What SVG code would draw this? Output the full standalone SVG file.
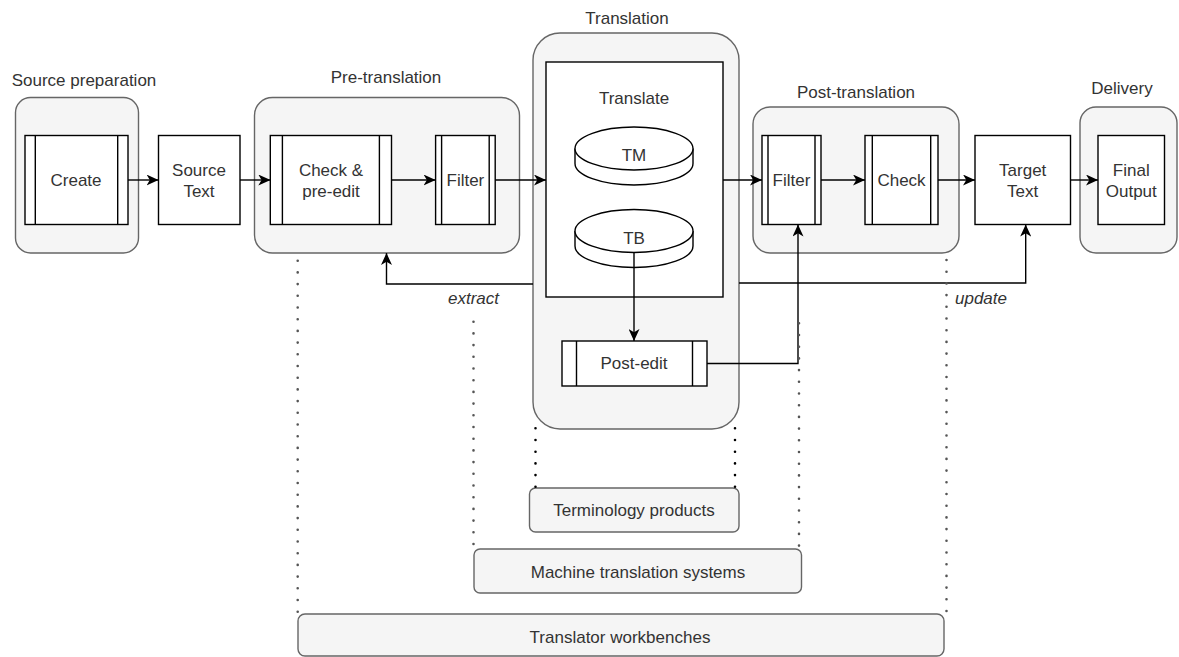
<svg xmlns="http://www.w3.org/2000/svg" width="1179" height="657" viewBox="0 0 1179 657">
  <style>
    text { font-family: "Liberation Sans", Arial, Helvetica, sans-serif; font-size: 17px; fill: #333; text-anchor: middle; }
    .it { font-style: italic; }
    .group { fill: #f5f5f5; stroke: #666; stroke-width: 1.4; }
    .tool { fill: #f5f5f5; stroke: #666; stroke-width: 1.4; }
    .box { fill: #fff; stroke: #000; stroke-width: 1.4; }
    .bar { fill: none; stroke: #000; stroke-width: 1.4; }
    .edge { fill: none; stroke: #000; stroke-width: 1.4; marker-end: url(#arrow); }
    .dots { fill: none; stroke: #555; stroke-width: 2.6; stroke-linecap: round; stroke-dasharray: 0 11.7; }
    .dots-dark { fill: none; stroke: #000; stroke-width: 2.6; stroke-linecap: round; stroke-dasharray: 0 11.7; }
  </style>
  <defs>
    <marker id="arrow" markerUnits="userSpaceOnUse" viewBox="0 0 12 11" refX="12" refY="5.5" markerWidth="12" markerHeight="11" orient="auto">
      <path d="M0,0 L12,5.5 L0,11 L3.3,5.5 Z" fill="#000"/>
    </marker>
  </defs>

  <rect width="1179" height="657" fill="#fff"/>

  <!-- stage containers -->
  <g id="source-preparation">
    <rect class="group" x="15.5" y="97.5" width="123" height="155.5" rx="15"/>
    <text x="84" y="86">Source preparation</text>
  </g>
  <g id="pre-translation">
    <rect class="group" x="254.5" y="97.5" width="265" height="155.5" rx="18"/>
    <text x="386" y="83">Pre-translation</text>
  </g>
  <g id="translation">
    <rect class="group" x="533" y="33" width="206" height="396" rx="27"/>
    <text x="627" y="24">Translation</text>
  </g>
  <g id="post-translation">
    <rect class="group" x="753" y="107" width="206" height="146" rx="17"/>
    <text x="856" y="98">Post-translation</text>
  </g>
  <g id="delivery">
    <rect class="group" x="1080" y="107" width="97" height="146" rx="16"/>
    <text x="1122" y="94">Delivery</text>
  </g>

  <!-- process steps -->
  <g id="create">
    <rect class="box" x="25" y="135.5" width="103" height="89"/>
    <path class="bar" d="M35.3,135.5 V224.5 M117.7,135.5 V224.5"/>
    <text x="76" y="186">Create</text>
  </g>
  <g id="source-text">
    <rect class="box" x="158.5" y="135.5" width="81.5" height="89"/>
    <text x="199" y="176">Source</text>
    <text x="199" y="196.5">Text</text>
  </g>
  <g id="check-pre-edit">
    <rect class="box" x="270.3" y="135.5" width="121.2" height="89"/>
    <path class="bar" d="M282.4,135.5 V224.5 M379.4,135.5 V224.5"/>
    <text x="331" y="176">Check &amp;</text>
    <text x="331" y="196.5">pre-edit</text>
  </g>
  <g id="filter-pre">
    <rect class="box" x="435.6" y="135.5" width="59.6" height="89"/>
    <path class="bar" d="M441.6,135.5 V224.5 M489.2,135.5 V224.5"/>
    <text x="465.4" y="186">Filter</text>
  </g>
  <g id="translate">
    <rect class="box" x="546" y="62" width="177" height="235"/>
    <text x="634" y="104">Translate</text>
  </g>
  <g id="tm">
    <path class="box" d="M575,148.5 V163.5 A59,21.5 0 0 0 693,163.5 V148.5"/>
    <ellipse class="box" cx="634" cy="148.5" rx="59" ry="21.5"/>
    <text x="634" y="161">TM</text>
  </g>
  <g id="tb">
    <path class="box" d="M575,231 V246 A59,21.5 0 0 0 693,246 V231"/>
    <ellipse class="box" cx="634" cy="231" rx="59" ry="21.5"/>
    <text x="634" y="244">TB</text>
  </g>
  <g id="post-edit">
    <rect class="box" x="562" y="341" width="145" height="45"/>
    <path class="bar" d="M576.5,341 V386 M692.5,341 V386"/>
    <text x="634" y="369">Post-edit</text>
  </g>
  <g id="filter-post">
    <rect class="box" x="762" y="135.5" width="59" height="89"/>
    <path class="bar" d="M768,135.5 V224.5 M815,135.5 V224.5"/>
    <text x="791.5" y="186">Filter</text>
  </g>
  <g id="check">
    <rect class="box" x="865" y="135.5" width="73" height="89"/>
    <path class="bar" d="M872.3,135.5 V224.5 M930.7,135.5 V224.5"/>
    <text x="901.5" y="186">Check</text>
  </g>
  <g id="target-text">
    <rect class="box" x="975" y="135.5" width="95.5" height="89"/>
    <text x="1022.7" y="176">Target</text>
    <text x="1022.7" y="196.5">Text</text>
  </g>
  <g id="final-output">
    <rect class="box" x="1098" y="135.5" width="66.5" height="89"/>
    <text x="1131.3" y="176">Final</text>
    <text x="1131.3" y="196.5">Output</text>
  </g>

  <!-- tool families -->
  <g id="terminology-products">
    <rect class="tool" x="529.5" y="488" width="209.5" height="44" rx="6"/>
    <text x="634" y="516">Terminology products</text>
  </g>
  <g id="machine-translation-systems">
    <rect class="tool" x="474" y="549" width="327.5" height="44" rx="6"/>
    <text x="638" y="578">Machine translation systems</text>
  </g>
  <g id="translator-workbenches">
    <rect class="tool" x="298" y="614" width="646" height="42" rx="7"/>
    <text x="620" y="643">Translator workbenches</text>
  </g>

  <!-- connectors -->
  <g id="connectors">
    <path class="edge" d="M128,180 H158.5"/>
    <path class="edge" d="M240,180 H270.3"/>
    <path class="edge" d="M391.5,180 H435.6"/>
    <path class="edge" d="M495.2,180 H546"/>
    <path class="edge" d="M723,180 H762"/>
    <path class="edge" d="M821,180 H865"/>
    <path class="edge" d="M938,180 H975"/>
    <path class="edge" d="M1070.5,180 H1098"/>
    <path class="edge" d="M634,252.5 V341"/>
    <path class="edge" d="M707,363.5 H798 V224.5"/>
    <path class="edge" d="M533,284 H386.5 V253"/>
    <path class="edge" d="M739,283 H1025.7 V224.5"/>
    <text class="it" x="473.5" y="304">extract</text>
    <text class="it" x="981" y="304">update</text>

    <!-- dotted links from stages to tool families -->
    <path class="dots" d="M297.7,260.7 V614"/>
    <path class="dots" d="M946.5,260 V614"/>
    <path class="dots" d="M473.5,321.7 V549"/>
    <path class="dots" d="M799,323.3 V549"/>
    <path class="dots-dark" d="M535.5,428.3 V488"/>
    <path class="dots-dark" d="M735,428.3 V488"/>
  </g>
</svg>
